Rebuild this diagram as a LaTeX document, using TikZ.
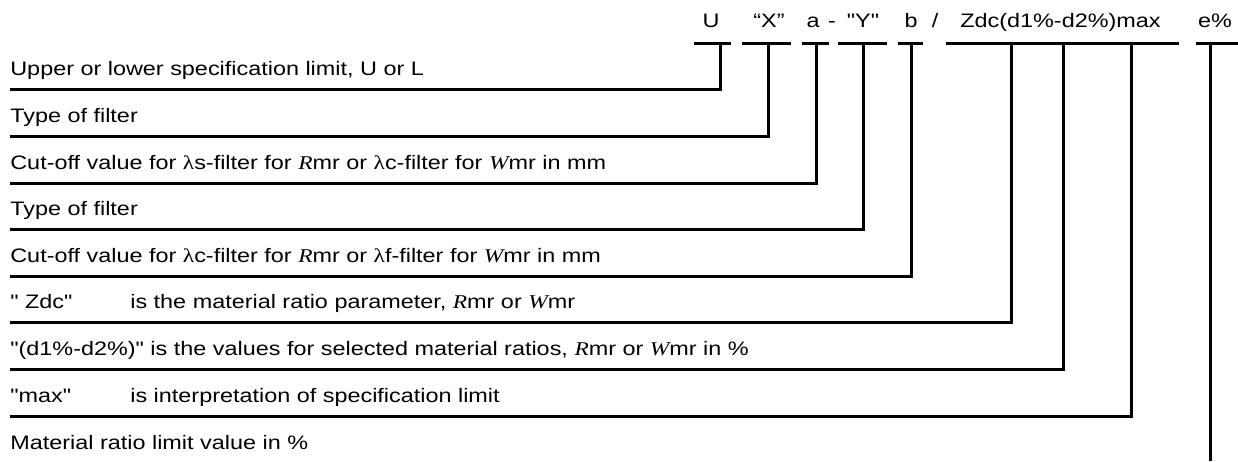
\documentclass[tikz,border=0pt]{standalone}
\usepackage{fontspec}
\setmainfont{Liberation Sans}[FakeStretch=1.2, Ligatures=TeXOff]
\newfontfamily\serifface{Liberation Serif}[FakeStretch=1.2]
\usetikzlibrary{positioning}
\newcommand{\Rmr}{{\serifface\itshape R}mr}
\newcommand{\Wmr}{{\serifface\itshape W}mr}
\newcommand{\lam}{{\serifface λ}}

\begin{document}
\begin{tikzpicture}[
    x=0.02cm, y=-0.02cm,
    desc/.style={anchor=base west, inner sep=0pt, font=\fontsize{11.1}{13}\selectfont},
    code/.style={anchor=base, inner sep=0pt, font=\fontsize{11.1}{13}\selectfont},
    lead/.style={line width=1.7pt, black},
]
\useasboundingbox (0,0) rectangle (1238,461);

% Designation string along the top
\node[code] (cU) at (711,27) {U};
\node[code] (cX) at (769,27) {“X”};
\node[code] (ca) at (813,27) {a};
\node[code] (cdash) at (832,27) {-};
\node[code] (cY) at (863,27) {"Y"};
\node[code] (cb) at (911,27) {b};
\node[code] (cslash) at (935,27) {/};
\node[code, anchor=base west] (cZ) at (960,27) {Zdc(d1\%-d2\%)max};
\node[code] (ce) at (1215,27) {e\%};

% Explanations on the left
\node[desc] (t1) at (10,75) {Upper or lower specification limit, U or L};
\node[desc] (t2) at (10,122) {Type of filter};
\node[desc] (t3) at (10,169) {Cut-off value for \lam s-filter for \Rmr\ or \lam c-filter for \Wmr\ in mm};
\node[desc] (t4) at (10,215) {Type of filter};
\node[desc] (t5) at (10,262) {Cut-off value for \lam c-filter for \Rmr\ or \lam f-filter for \Wmr\ in mm};
\node[desc] (t6) at (10,308) {" Zdc"};
\node[desc] (t6b) at (130,308) {is the material ratio parameter, \Rmr\ or \Wmr};
\node[desc] (t7) at (10,355) {"(d1\%-d2\%)" is the values for selected material ratios, \Rmr\ or \Wmr\ in \%};
\node[desc] (t8) at (10,402) {"max"};
\node[desc] (t8b) at (130,402) {is interpretation of specification limit};
\node[desc] (t9) at (10,449) {Material ratio limit value in \%};

% Bars under the designation, with junction points
\coordinate (j1) at (720,43);
\coordinate (j2) at (768,43);
\coordinate (j3) at (816,43);
\coordinate (j4) at (863,43);
\coordinate (j5) at (911,43);
\coordinate (j6) at (1011,43);
\coordinate (j7) at (1063,43);
\coordinate (j8) at (1131,43);
\coordinate (j9) at (1210,43);

\draw[lead] (694,43) -- (731,43);
\draw[lead] (742,43) -- (791,43);
\draw[lead] (802,43) -- (829,43);
\draw[lead] (838,43) -- (887,43);
\draw[lead] (898,43) -- (923,43);
\draw[lead] (946,43) -- (1179,43);
\draw[lead] (1196,43) -- (1238,43);

% Leaders from explanations up to the bars
\draw[lead] (t1.base west) ++(0,14) coordinate (e1) -| (j1);
\draw[lead] (t2.base west) ++(0,14) coordinate (e2) -| (j2);
\draw[lead] (t3.base west) ++(0,14) coordinate (e3) -| (j3);
\draw[lead] (t4.base west) ++(0,14) coordinate (e4) -| (j4);
\draw[lead] (t5.base west) ++(0,14) coordinate (e5) -| (j5);
\draw[lead] (t6.base west) ++(0,14) coordinate (e6) -| (j6);
\draw[lead] (t7.base west) ++(0,14) coordinate (e7) -| (j7);
\draw[lead] (t8.base west) ++(0,14) coordinate (e8) -| (j8);
\coordinate (e9) at (1210,461);
\draw[lead] (j9) -- (e9);

\end{tikzpicture}
\end{document}
